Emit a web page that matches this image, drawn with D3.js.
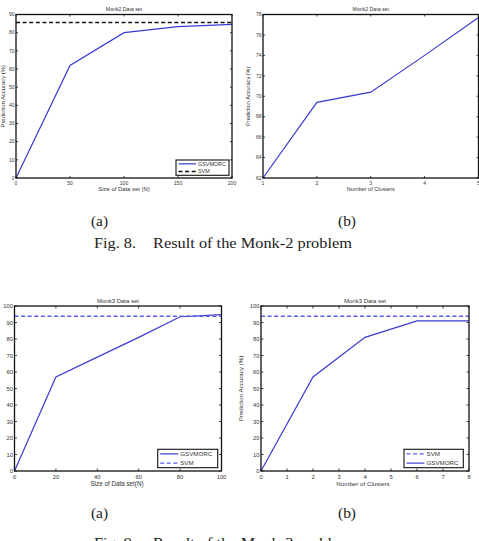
<!DOCTYPE html>
<html>
<head>
  <meta charset="utf-8">
  <script src="https://d3js.org/d3.v7.min.js"></script>
  <style>
    body { margin: 0; background: #fff; }
    svg { display: block; }
    text { font-family: "Liberation Sans", Arial, sans-serif; fill: #333; }
    .cap { font-family: "Liberation Serif", "Times New Roman", serif; fill: #222; }
  </style>
</head>
<body>
<script>
// Monk-2, (a): accuracy vs size of data set
var monk2SizeX = [0, 50, 100, 150, 200];
var monk2SizeGsv = [0, 62, 80, 83.3, 84.6];
var monk2SizeSvm = 85.6;
var monk2SizeXTicks = [0, 50, 100, 150, 200];
var monk2SizeYTicks = [0, 10, 20, 30, 40, 50, 60, 70, 80, 90];

// Monk-2, (b): accuracy vs number of clusters
var monk2ClX = [1, 2, 3, 4, 5];
var monk2ClGsv = [62, 69.4, 70.4, 74, 77.7];
var monk2ClXTicks = [1, 2, 3, 4, 5];
var monk2ClYTicks = [62, 64, 66, 68, 70, 72, 74, 76, 78];

// Monk-3, (a)
var monk3SizeX = [0, 20, 40, 60, 80, 100];
var monk3SizeGsv = [0, 57, 69, 81, 93.5, 94.8];
var monk3SizeSvm = 93.8;
var monk3SizeXTicks = [0, 20, 40, 60, 80, 100];
var pctTicks = [0, 10, 20, 30, 40, 50, 60, 70, 80, 90, 100];

// Monk-3, (b)
var monk3ClX = [0, 2, 4, 6, 8];
var monk3ClGsv = [0, 57, 81, 91, 91];
var monk3ClSvm = 93.8;
var monk3ClXTicks = [0, 1, 2, 3, 4, 5, 6, 7, 8];

var blue = "#3a3ad2", blueDash = "#5b5be8";

var svg = d3.select("body").append("svg").attr("width", 479).attr("height", 541);

function panel(o) {
  var g = svg.append("g");
  var x = d3.scaleLinear().domain(o.xd).range([o.l, o.r]);
  var y = d3.scaleLinear().domain(o.yd).range([o.b, o.t]);
  var fs = o.fs, tl = o.tl, lfs = o.lfs;

  var line = d3.line().x(function (d) { return x(d[0]); }).y(function (d) { return y(d[1]); });
  o.series.forEach(function (s) {
    var pts = s.flat !== undefined ? [[o.xd[0], s.flat], [o.xd[1], s.flat]] : s.xs.map(function (v, i) { return [v, s.ys[i]]; });
    g.append("path").attr("d", line(pts)).attr("fill", "none").attr("stroke", s.color)
      .attr("stroke-width", s.dash ? 1.4 : 1.2).attr("stroke-dasharray", s.dash || null);
  });

  g.append("rect").attr("x", o.l).attr("y", o.t).attr("width", o.r - o.l).attr("height", o.b - o.t)
    .attr("fill", "none").attr("stroke", "#111").attr("stroke-width", 1.3);

  // inward ticks on all four sides, matlab style
  o.xt.forEach(function (v) {
    g.append("line").attr("x1", x(v)).attr("x2", x(v)).attr("y1", o.b).attr("y2", o.b - tl).attr("stroke", "#111").attr("stroke-width", 0.8);
    g.append("line").attr("x1", x(v)).attr("x2", x(v)).attr("y1", o.t).attr("y2", o.t + tl).attr("stroke", "#111").attr("stroke-width", 0.8);
    g.append("text").attr("x", x(v)).attr("y", o.b + o.xly).attr("text-anchor", "middle").style("font-size", fs + "px").text(v);
  });
  o.yt.forEach(function (v) {
    g.append("line").attr("x1", o.l).attr("x2", o.l + tl).attr("y1", y(v)).attr("y2", y(v)).attr("stroke", "#111").attr("stroke-width", 0.8);
    g.append("line").attr("x1", o.r).attr("x2", o.r - tl).attr("y1", y(v)).attr("y2", y(v)).attr("stroke", "#111").attr("stroke-width", 0.8);
    g.append("text").attr("x", o.l - 1.5).attr("y", y(v) + fs * 0.35).attr("text-anchor", "end").style("font-size", fs + "px").text(v);
  });

  g.append("text").attr("x", (o.l + o.r) / 2).attr("y", o.t - 3.5).attr("text-anchor", "middle").style("font-size", o.tfs + "px").text(o.title);
  g.append("text").attr("x", o.xlx || (o.l + o.r) / 2).attr("y", o.b + o.xly + lfs + 1).attr("text-anchor", "middle").style("font-size", lfs + "px").text(o.xlabel);
  if (o.ylabel) {
    g.append("text").attr("transform", "translate(" + o.ylx + "," + ((o.t + o.b) / 2) + ") rotate(-90)")
      .attr("text-anchor", "middle").style("font-size", lfs + "px").text(o.ylabel);
  }

  // legend
  var L = o.leg;
  if (!L) return;
  g.append("rect").attr("x", L.x).attr("y", L.y).attr("width", L.w).attr("height", L.h)
    .attr("fill", "#fff").attr("stroke", "#111").attr("stroke-width", 1.1);
  L.items.forEach(function (it, i) {
    var yy = L.y + L.h * (i + 0.5) / L.items.length;
    g.append("line").attr("x1", L.x + 2.5).attr("x2", L.x + 2.5 + L.len).attr("y1", yy).attr("y2", yy)
      .attr("stroke", it.color).attr("stroke-width", it.dash ? 1.4 : 1.2).attr("stroke-dasharray", it.dash || null);
    g.append("text").attr("x", L.x + 4.5 + L.len).attr("y", yy + L.fs * 0.35).style("font-size", L.fs + "px").text(it.name);
  });
}

panel({
  l: 16, r: 232, t: 14.5, b: 178, xd: [0, 200], yd: [0, 90], xt: monk2SizeXTicks, yt: monk2SizeYTicks,
  fs: 5, lfs: 5.9, tfs: 5.2, tl: 2, xly: 6.5, title: "Monk2 Data set", xlabel: "Size of Data set (N)",
  ylabel: "Prediction Accuracy (%)", ylx: 4.5,
  series: [
    { xs: monk2SizeX, ys: monk2SizeGsv, color: blue },
    { flat: monk2SizeSvm, color: "#111", dash: "4,2.6" }
  ],
  leg: { x: 176, y: 160, w: 53, h: 15.3, len: 17.5, fs: 5.4, items: [
    { name: "GSVMORC", color: blue }, { name: "SVM", color: "#111", dash: "4,2.6" }] }
});

panel({
  l: 263, r: 478.5, t: 14.5, b: 178, xd: [1, 5], yd: [62, 78], xt: monk2ClXTicks, yt: monk2ClYTicks,
  fs: 5, lfs: 5.6, tfs: 5.2, tl: 2, xly: 6.5, title: "Monk2 Data set", xlabel: "Number of Clusters",
  ylabel: "Prediction Accuracy (%)", ylx: 250,
  series: [{ xs: monk2ClX, ys: monk2ClGsv, color: blue }],
  leg: null
});

panel({
  l: 14.5, r: 221.5, t: 306, b: 471, xd: [0, 100], yd: [0, 100], xt: monk3SizeXTicks, yt: pctTicks,
  fs: 5.8, lfs: 6.3, tfs: 6, tl: 2.5, xly: 7.5, title: "Monk3 Data set", xlabel: "Size of Data set(N)", xlx: 117,
  ylabel: null,
  series: [
    { xs: monk3SizeX, ys: monk3SizeGsv, color: blue },
    { flat: monk3SizeSvm, color: blueDash, dash: "4,2.6" }
  ],
  leg: { x: 157.7, y: 449.3, w: 60, h: 18.4, len: 18, fs: 6.2, items: [
    { name: "GSVMORC", color: blue }, { name: "SVM", color: blueDash, dash: "4,2.6" }] }
});

panel({
  l: 261, r: 469, t: 306, b: 471, xd: [0, 8], yd: [0, 100], xt: monk3ClXTicks, yt: pctTicks,
  fs: 5.8, lfs: 6.2, tfs: 6, tl: 2.5, xly: 7.5, title: "Monk3 Data set", xlabel: "Number of Clusters", xlx: 363,
  ylabel: "Prediction Accuracy (%)", ylx: 243,
  series: [
    { flat: monk3ClSvm, color: blueDash, dash: "4,2.6" },
    { xs: monk3ClX, ys: monk3ClGsv, color: blue }
  ],
  leg: { x: 404, y: 449.3, w: 59.3, h: 18.4, len: 18, fs: 6.2, items: [
    { name: "SVM", color: blueDash, dash: "4,2.6" }, { name: "GSVMORC", color: blue }] }
});

// sub-figure labels and captions (the scan is a little stretched sideways)
function caption(yLab, yCap, num, name) {
  svg.append("text").attr("class", "cap").attr("x", 91).attr("y", yLab).style("font-size", "14px")
    .attr("textLength", 17).attr("lengthAdjust", "spacingAndGlyphs").text("(a)");
  svg.append("text").attr("class", "cap").attr("x", 338).attr("y", yLab).style("font-size", "14px")
    .attr("textLength", 18).attr("lengthAdjust", "spacingAndGlyphs").text("(b)");
  svg.append("text").attr("class", "cap").attr("x", 94).attr("y", yCap).style("font-size", "14px")
    .attr("textLength", 42).attr("lengthAdjust", "spacingAndGlyphs").text("Fig. " + num + ".");
  svg.append("text").attr("class", "cap").attr("x", 153).attr("y", yCap).style("font-size", "14px")
    .attr("textLength", 199).attr("lengthAdjust", "spacingAndGlyphs").text("Result of the " + name + " problem");
}
caption(225.5, 248.3, 8, "Monk-2");
caption(517.5, 547.5, 9, "Monk-3");
</script>
</body>
</html>
